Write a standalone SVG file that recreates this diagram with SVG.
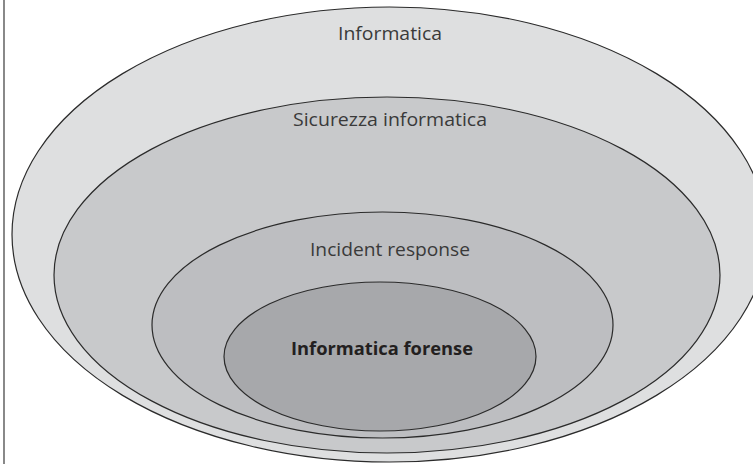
<svg xmlns="http://www.w3.org/2000/svg" width="753" height="464" viewBox="0 0 753 464">
<style>
.e{stroke:#2b2b2b;stroke-width:1.2}
.t{font-family:"Open Sans","Liberation Sans",sans-serif;font-size:18px;fill:#3a3a3a;text-anchor:middle}
.b{font-weight:bold;fill:#231f20}
</style>
<rect width="753" height="464" fill="#ffffff"/>
<line x1="4" y1="0" x2="4" y2="464" stroke="#3a3a3a" stroke-width="1.2"/>
<g id="informatica">
<ellipse class="e" cx="389.5" cy="234.5" rx="377.5" ry="227.5" fill="#dedfe0"/>
<text class="t" x="390" y="40" textLength="104" lengthAdjust="spacingAndGlyphs">Informatica</text>
</g>
<g id="sicurezza">
<ellipse class="e" cx="387" cy="275" rx="333" ry="178" fill="#c8c9cb"/>
<text class="t" x="390" y="126" textLength="194" lengthAdjust="spacingAndGlyphs">Sicurezza informatica</text>
</g>
<g id="incident">
<ellipse class="e" cx="382.5" cy="325" rx="230.5" ry="113" fill="#bdbec1"/>
<text class="t" x="390" y="256" textLength="160" lengthAdjust="spacingAndGlyphs">Incident response</text>
</g>
<g id="forense">
<ellipse class="e" cx="380" cy="356.5" rx="156" ry="74.5" fill="#a7a8ab"/>
<text class="t b" x="382" y="355" textLength="182" lengthAdjust="spacingAndGlyphs">Informatica forense</text>
</g>
<g id="connectors"/>
</svg>
